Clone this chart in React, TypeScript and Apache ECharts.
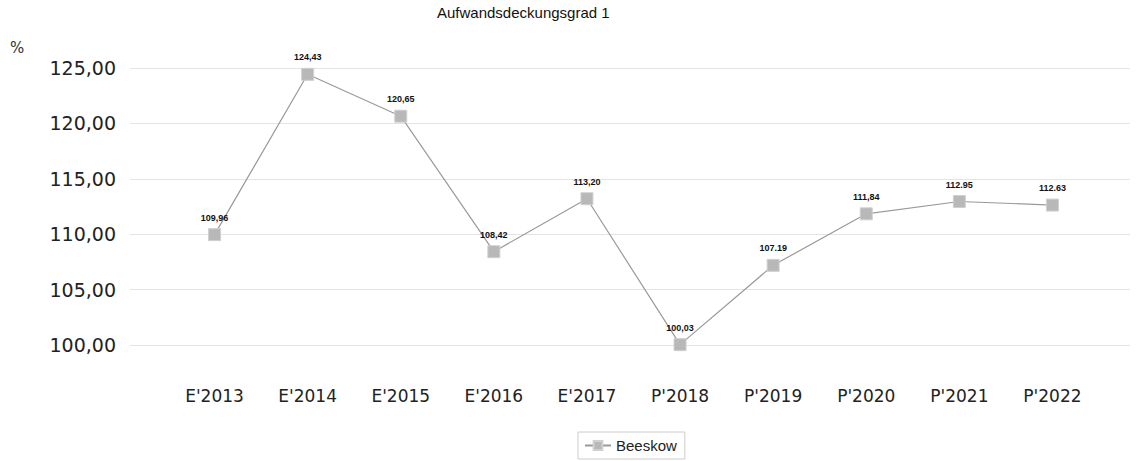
import React, { useEffect, useRef } from "react";
import * as echarts from "echarts";

const categories = ["E'2013", "E'2014", "E'2015", "E'2016", "E'2017", "P'2018", "P'2019", "P'2020", "P'2021", "P'2022"];
const values = [109.96, 124.43, 120.65, 108.42, 113.2, 100.03, 107.19, 111.84, 112.95, 112.63];
const valueLabels = ["109,96", "124,43", "120,65", "108,42", "113,20", "100,03", "107.19", "111,84", "112.95", "112.63"];
const yTicks = [100, 105, 110, 115, 120, 125];
const seriesName = "Beeskow";
const title = "Aufwandsdeckungsgrad 1";

export default function App() {
  const ref = useRef<HTMLDivElement>(null);
  useEffect(() => {
    if (!ref.current) return;
    const chart = echarts.init(ref.current, null, { renderer: "svg" });
    const yMin = yTicks[0];
    const yMax = yTicks[yTicks.length - 1];
    const yInterval = yTicks[1] - yTicks[0];
    chart.setOption({
      animation: false,
      backgroundColor: "#ffffff",
      title: {
        text: title,
        left: 432,
        top: 0,
        textStyle: { fontFamily: "Liberation Sans, Arial", fontSize: 15, fontWeight: "normal", color: "#111" },
      },
      graphic: [
        { type: "text", left: 10, top: 40, style: { text: "%", fontFamily: "DejaVu Sans", fontSize: 15, fill: "#333" } },
      ],
      legend: {
        data: [seriesName],
        bottom: 2,
        left: 578,
        itemWidth: 26,
        itemHeight: 11,
        itemGap: 6,
        padding: [6, 8, 6, 6],
        borderColor: "#cccccc",
        borderWidth: 1,
        textStyle: { fontFamily: "Liberation Sans, Arial", fontSize: 15, color: "#222" },
      },
      grid: [
        { left: 130, right: 15, top: 68, bottom: 116 },
        { left: 168, right: 46, top: 68, bottom: 116 },
      ],
      xAxis: [
        { type: "category", gridIndex: 0, data: categories, show: false },
        {
          type: "category",
          gridIndex: 1,
          data: categories,
          boundaryGap: true,
          axisLine: { show: false },
          axisTick: { show: false },
          axisLabel: { margin: 42, fontFamily: "DejaVu Sans", fontSize: 17, color: "#222" },
        },
      ],
      yAxis: [
        {
          type: "value",
          gridIndex: 0,
          min: yMin,
          max: yMax,
          interval: yInterval,
          axisLine: { show: false },
          axisTick: { show: false },
          splitLine: { lineStyle: { color: "#e4e4e4", width: 1 } },
          axisLabel: {
            margin: 14,
            fontFamily: "DejaVu Sans",
            fontSize: 19,
            color: "#222",
            formatter: (v: number) => v.toFixed(2).replace(".", ","),
          },
        },
        {
          type: "value",
          gridIndex: 1,
          min: yMin,
          max: yMax,
          interval: yInterval,
          show: false,
          splitLine: { show: false },
        },
      ],
      series: [
        {
          name: seriesName,
          type: "line",
          xAxisIndex: 1,
          yAxisIndex: 1,
          data: values,
          symbol: "rect",
          symbolSize: 12,
          itemStyle: { color: "#b8b8b8", borderColor: "#d0d0d0", borderWidth: 1 },
          lineStyle: { color: "#9a9a9a", width: 1.2 },
          label: {
            show: true,
            position: "top",
            distance: 6,
            fontFamily: "Liberation Sans, Arial",
            fontSize: 9,
            fontWeight: "bold",
            color: "#111",
            formatter: (p: any) => valueLabels[p.dataIndex],
          },
        },
      ],
    });
    return () => chart.dispose();
  }, []);
  return <div ref={ref} style={{ position: "fixed", left: 0, top: 0, width: 1145, height: 461 }} />;
}
